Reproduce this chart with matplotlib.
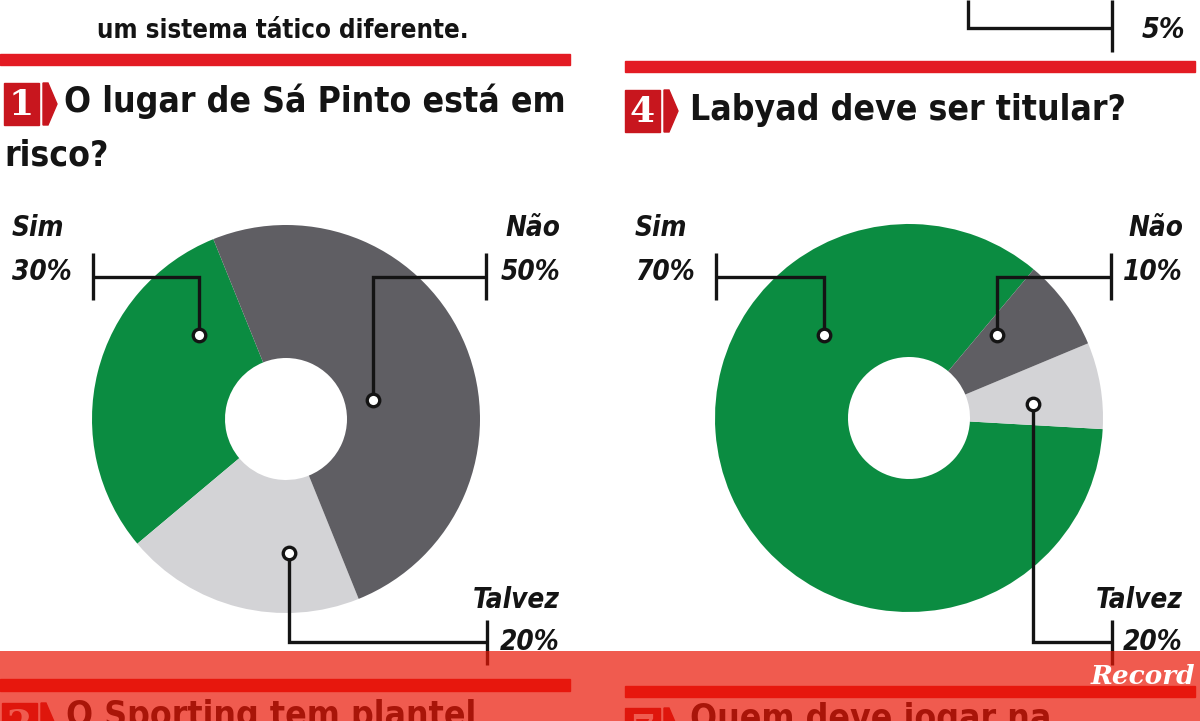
import matplotlib
matplotlib.use("Agg")
import matplotlib.pyplot as plt
from matplotlib.patches import Rectangle, Polygon

W, H = 1200, 721

# ---------------- data ----------------
answers = ["Sim", "Talvez", "Não"]
q1_title_line1 = "O lugar de Sá Pinto está em"
q1_title_line2 = "risco?"
q1_pct_labels = ["30%", "20%", "50%"]
q1_shares = [30, 20, 50]
q4_title = "Labyad deve ser titular?"
q4_pct_labels = ["70%", "20%", "10%"]
q4_shares = [85.2, 7.2, 7.6]          # slice sizes as drawn in the graphic
top_text = "um sistema tático diferente."
top_right_pct = "5%"
next_q_left = "O Sporting tem plantel"
next_q_right = "Quem deve jogar na"
brand = "Record"

slice_colors = ["#0b8c41", "#d3d3d6", "#5f5e63"]
RED = "#e31b23"
BADGE = "#c8161e"
INK = "#141414"
COND = ["Liberation Sans Narrow", "DejaVu Sans"]

fig = plt.figure(figsize=(W / 100, H / 100), dpi=100)
ax = fig.add_axes([0, 0, 1, 1])


def Y(py):
    return H - py


def txt(x, y, s, size, ha="left", style="italic", color=INK, weight="bold", **kw):
    ax.text(x, Y(y), s, fontsize=size, ha=ha, va="center", fontstyle=style,
            fontweight=weight, color=color, family=COND, fontstretch="condensed", **kw)


def path(xs, ys, lw=2.4, z=3):
    ax.plot(xs, [Y(v) for v in ys], color=INK, lw=lw, solid_capstyle="butt",
            solid_joinstyle="miter", zorder=z)


def dot(x, y):
    ax.plot(x, Y(y), "o", ms=9, mfc="white", mec=INK, mew=2.4, zorder=4)


def badge(x0, y0, num):
    ax.add_patch(Rectangle((x0, Y(y0 + 42)), 35, 42, color=BADGE, zorder=2))
    ax.add_patch(Polygon([(x0 + 39, Y(y0)), (x0 + 44, Y(y0)), (x0 + 53, Y(y0 + 21)),
                          (x0 + 44, Y(y0 + 42)), (x0 + 39, Y(y0 + 42))],
                         closed=True, color=BADGE, zorder=2))
    ax.text(x0 + 17.5, Y(y0 + 22), num, fontsize=26, ha="center", va="center",
            color="white", family="DejaVu Serif", fontweight="bold", zorder=3)


# ---------------- donuts ----------------
ax.pie(q1_shares, colors=slice_colors, startangle=112, counterclock=True,
       center=(286, Y(419)), radius=194, frame=True,
       wedgeprops=dict(width=133, edgecolor="none", linewidth=0))
ax.pie(q4_shares, colors=slice_colors, startangle=50, counterclock=True,
       center=(909, Y(418)), radius=194, frame=True,
       wedgeprops=dict(width=133, edgecolor="none", linewidth=0))

# ---------------- top section ----------------
txt(283, 31, top_text, 18.5, ha="center", style="normal")
ax.add_patch(Rectangle((0, Y(65)), 570, 11, color=RED, zorder=2))
ax.add_patch(Rectangle((625, Y(72)), 570, 11, color=RED, zorder=2))
path([968, 968, 1112], [0, 28, 28])
path([1112, 1112], [0, 52])
txt(1185, 30, top_right_pct, 20.5, ha="right")

badge(4, 83, "1")
txt(64, 101, q1_title_line1, 25.5, style="normal")
txt(4, 155, q1_title_line2, 25.5, style="normal")
badge(625, 90, "4")
txt(690, 110, q4_title, 25.5, style="normal")

# ---------------- Q1 labels ----------------
LS = 20
txt(12, 228, answers[0], LS)
txt(12, 272, q1_pct_labels[0], LS)
path([93, 93], [253, 300])
path([93, 199, 199], [277, 277, 330])
dot(199, 335)

txt(560, 228, answers[2], LS, ha="right")
txt(560, 272, q1_pct_labels[2], LS, ha="right")
path([486, 486], [253, 300])
path([486, 373, 373], [277, 277, 395])
dot(373, 400)

txt(560, 600, answers[1], LS, ha="right")
txt(560, 642, q1_pct_labels[1], LS, ha="right")
path([487, 487], [620, 665])
path([289, 289, 487], [558, 642, 642])
dot(289, 553)

# ---------------- Q4 labels ----------------
txt(635, 228, answers[0], LS)
txt(635, 272, q4_pct_labels[0], LS)
path([716, 716], [253, 300])
path([716, 824, 824], [277, 277, 330])
dot(824, 335)

txt(1183, 228, answers[2], LS, ha="right")
txt(1183, 272, q4_pct_labels[2], LS, ha="right")
path([1111, 1111], [253, 300])
path([1111, 997, 997], [277, 277, 330])
dot(997, 335)

txt(1183, 600, answers[1], LS, ha="right")
txt(1183, 642, q4_pct_labels[1], LS, ha="right")
path([1112, 1112], [620, 665])
path([1033, 1033, 1112], [409, 642, 642])
dot(1033, 404)

# ---------------- bottom (next questions, under overlay) ----------------
ax.add_patch(Rectangle((0, Y(691)), 570, 12, color=RED, zorder=2))
ax.add_patch(Rectangle((625, Y(697)), 570, 11, color=RED, zorder=2))
badge(2, 703, "2")
txt(66, 716, next_q_left, 25.5, style="normal")
badge(625, 708, "7")
txt(690, 719, next_q_right, 25.5, style="normal")

# translucent red band + brand
ax.add_patch(Rectangle((0, 0), W, Y(651), color="#ea1605", alpha=0.7, zorder=10, lw=0))
ax.text(1143, Y(676), brand, fontsize=19, ha="center", va="center", color="white",
        family="DejaVu Serif", fontweight="bold", fontstyle="italic", zorder=11)

ax.set_xlim(0, W)
ax.set_ylim(0, H)
ax.set_aspect("auto")
ax.axis("off")
fig.savefig("out.png", dpi=100, facecolor="white")
